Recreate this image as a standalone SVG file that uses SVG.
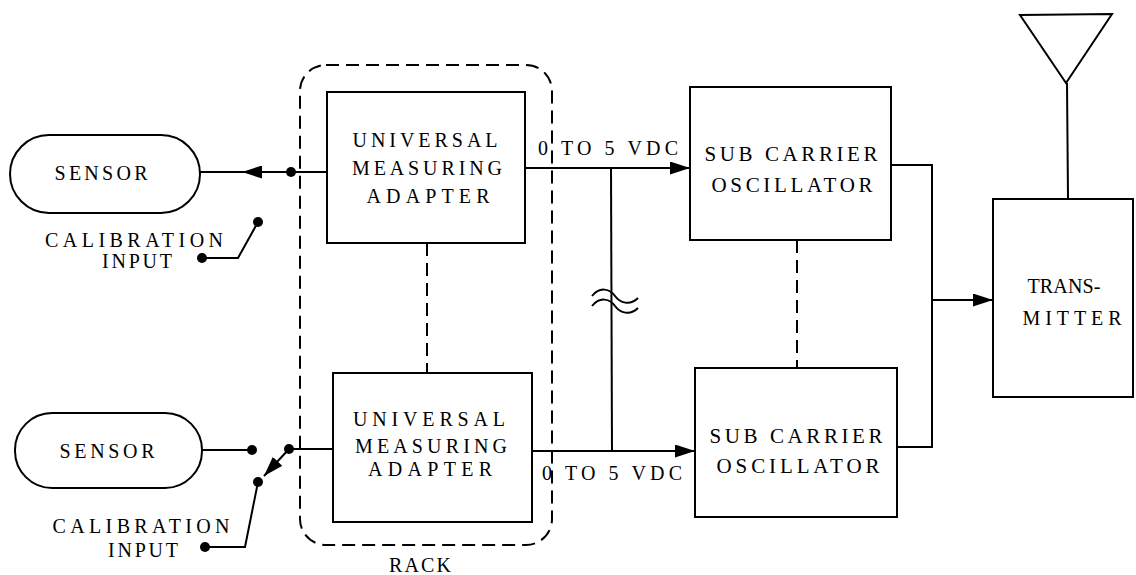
<svg xmlns="http://www.w3.org/2000/svg" width="1136" height="575" viewBox="0 0 1136 575">
<style>
.ln{fill:none;stroke:#000;stroke-width:2}
.bx{fill:#fff;stroke:#000;stroke-width:2}
.dash{fill:none;stroke:#000;stroke-width:2;stroke-dasharray:13 7}
.dot{fill:#000}
</style>
<defs>
<marker id="arr" viewBox="0 0 20 13" refX="20" refY="6.5" markerWidth="20" markerHeight="13" markerUnits="userSpaceOnUse" orient="auto">
<path d="M0,0 L20,6.5 L0,13 Z" fill="#000"/>
</marker>
</defs>
<rect width="1136" height="575" fill="#fff"/>
<g font-family="'Liberation Serif', 'DejaVu Serif', 'Times New Roman', serif" font-size="20" fill="#000" text-anchor="middle">

<g id="rack">
<rect class="dash" x="300" y="65" width="252" height="480" rx="26" ry="26"/>
<text x="420" y="572" textLength="62" lengthAdjust="spacing">RACK</text>
</g>

<g id="connectors">
<line class="ln" x1="200" y1="172" x2="327" y2="172"/>
<line class="ln" x1="264" y1="172" x2="242" y2="172" marker-end="url(#arr)"/>
<circle class="dot" cx="291" cy="172" r="5"/>
<circle class="dot" cx="258" cy="222" r="5"/>
<polyline class="ln" points="258,222 238,258 202,258"/>
<circle class="dot" cx="202" cy="258" r="5"/>
<line class="ln" x1="202" y1="450" x2="252" y2="450"/>
<circle class="dot" cx="252" cy="450" r="5"/>
<line class="ln" x1="289" y1="449" x2="333" y2="449"/>
<circle class="dot" cx="289" cy="449" r="5"/>
<line class="ln" x1="289" y1="449" x2="264" y2="476" marker-end="url(#arr)"/>
<circle class="dot" cx="258" cy="482" r="5"/>
<polyline class="ln" points="258,482 245,547 205,547"/>
<circle class="dot" cx="205" cy="547" r="5"/>
<line class="ln" x1="525" y1="168" x2="690" y2="168" marker-end="url(#arr)"/>
<line class="ln" x1="532" y1="451" x2="695" y2="451" marker-end="url(#arr)"/>
<line class="ln" x1="611" y1="168" x2="612" y2="451"/>
<path class="ln" d="M592,296 C600,286 610,289 615,296 C620,303 630,306 638,298"/>
<path class="ln" d="M592,306 C600,296 610,299 615,306 C620,313 630,316 638,308"/>
<text x="608" y="155" textLength="140" lengthAdjust="spacing">0 TO 5 VDC</text>
<text x="612" y="480" textLength="140" lengthAdjust="spacing">0 TO 5 VDC</text>
<line class="dash" x1="427" y1="243" x2="427" y2="373"/>
<line class="dash" x1="797" y1="240" x2="797" y2="368"/>
<polyline class="ln" points="891,165 932,165 932,447 897,447"/>
<line class="ln" x1="932" y1="300" x2="993" y2="300" marker-end="url(#arr)"/>
<line class="ln" x1="1067" y1="83" x2="1068" y2="199"/>
</g>

<g id="sensor1">
<rect class="bx" x="10" y="135" width="190" height="78" rx="39" ry="39"/>
<text x="101" y="180" textLength="93" lengthAdjust="spacing">SENSOR</text>
</g>
<g id="cal1">
<text x="134" y="247" textLength="178" lengthAdjust="spacing">CALIBRATION</text>
<text x="137" y="268" textLength="70" lengthAdjust="spacing">INPUT</text>
</g>
<g id="sensor2">
<rect class="bx" x="15" y="413" width="187" height="75" rx="37" ry="37"/>
<text x="107" y="458" textLength="95" lengthAdjust="spacing">SENSOR</text>
</g>
<g id="cal2">
<text x="141" y="533" textLength="177" lengthAdjust="spacing">CALIBRATION</text>
<text x="143" y="557" textLength="70" lengthAdjust="spacing">INPUT</text>
</g>

<g id="uma1">
<rect class="bx" x="327" y="92" width="198" height="151"/>
<text x="425" y="147" textLength="145" lengthAdjust="spacing">UNIVERSAL</text>
<text x="427" y="175" textLength="150" lengthAdjust="spacing">MEASURING</text>
<text x="428" y="203" textLength="123" lengthAdjust="spacing">ADAPTER</text>
</g>
<g id="uma2">
<rect class="bx" x="333" y="373" width="199" height="149"/>
<text x="429" y="426" textLength="152" lengthAdjust="spacing">UNIVERSAL</text>
<text x="431" y="453" textLength="152" lengthAdjust="spacing">MEASURING</text>
<text x="430" y="476" textLength="124" lengthAdjust="spacing">ADAPTER</text>
</g>

<g id="sco1">
<rect class="bx" x="690" y="87" width="201" height="153"/>
<text x="791" y="161" font-size="21" textLength="173" lengthAdjust="spacing">SUB CARRIER</text>
<text x="792" y="192" font-size="21" textLength="161" lengthAdjust="spacing">OSCILLATOR</text>
</g>
<g id="sco2">
<rect class="bx" x="695" y="368" width="202" height="149"/>
<text x="796" y="443" font-size="21" textLength="173" lengthAdjust="spacing">SUB CARRIER</text>
<text x="798" y="473" font-size="21" textLength="163" lengthAdjust="spacing">OSCILLATOR</text>
</g>

<g id="transmitter">
<rect class="bx" x="993" y="199" width="140" height="198"/>
<text x="1064" y="293" textLength="73" lengthAdjust="spacing">TRANS-</text>
<text x="1072" y="325" textLength="99" lengthAdjust="spacing">MITTER</text>
</g>

<g id="antenna">
<polygon class="bx" points="1020,15 1112,14 1066,83"/>
</g>
</g>
</svg>
